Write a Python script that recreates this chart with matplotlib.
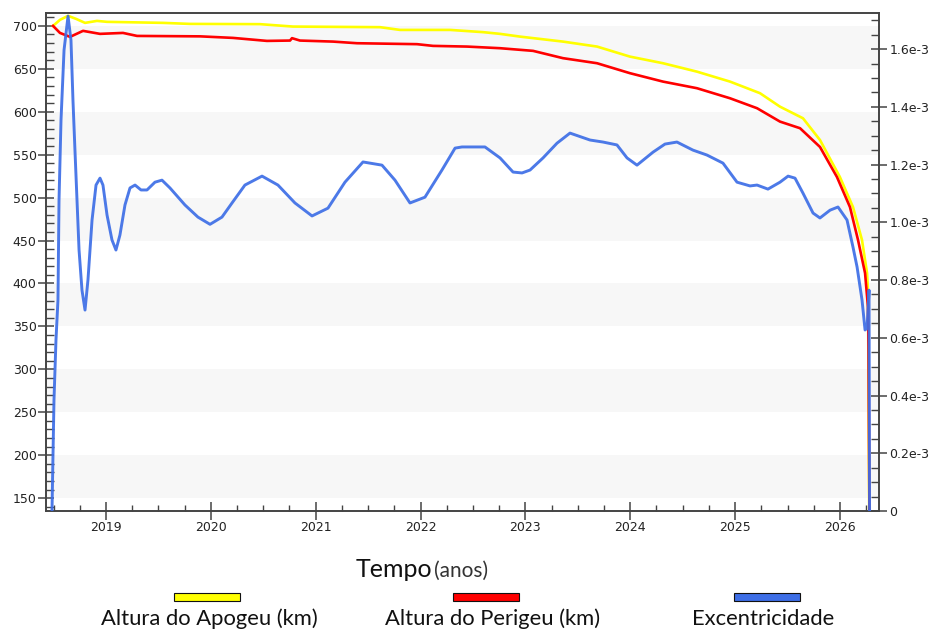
import matplotlib
matplotlib.use("Agg")
import matplotlib.pyplot as plt
from matplotlib.patches import Rectangle
from matplotlib.ticker import MultipleLocator, FuncFormatter

# ---- data ----
apo_t = [2018.495, 2018.561, 2018.638, 2018.714, 2018.800, 2018.914, 2019.010, 2019.544, 2019.801,
         2020.469, 2020.783, 2021.613, 2021.804, 2022.281, 2022.596, 2022.758, 2022.949, 2023.358,
         2023.683, 2023.997, 2024.312, 2024.636, 2024.951, 2025.237, 2025.428, 2025.647, 2025.809,
         2025.999, 2026.124, 2026.210, 2026.258, 2026.267, 2026.280]
apo_v = [700, 707, 711.7, 708.2, 703.5, 705.8, 704.7, 703.5, 702.3,
         702.0, 699.2, 698.5, 695.3, 695.3, 692.7, 690.7, 687.5, 681.7,
         675.9, 664.2, 656.5, 646.7, 635.1, 621.6, 605.9, 592.4, 567.1,
         524.0, 489.0, 450.5, 412.1, 392.3, 100]

peri_t = [2018.495, 2018.561, 2018.657, 2018.781, 2018.943, 2019.162, 2019.296, 2019.898, 2020.211,
          2020.535, 2020.755, 2020.774, 2020.850, 2021.165, 2021.394, 2021.966, 2022.119, 2022.443,
          2022.758, 2023.073, 2023.358, 2023.683, 2023.997, 2024.312, 2024.636, 2024.951, 2025.209,
          2025.428, 2025.619, 2025.809, 2025.971, 2026.095, 2026.172, 2026.239, 2026.267, 2026.272,
          2026.282]
peri_v = [700, 691.8, 687.2, 694.2, 690.7, 691.8, 688.3, 687.8, 686.0,
          682.5, 682.9, 685.7, 682.9, 681.7, 679.8, 678.7, 676.7, 675.9,
          674.0, 670.9, 662.4, 656.5, 644.9, 635.1, 627.4, 615.7, 604.1,
          588.5, 580.8, 559.0, 524.0, 489.0, 450.6, 412.1, 372.5, 325.9,
          100]

ecc_t = [2018.485, 2018.504, 2018.523, 2018.542, 2018.552, 2018.571, 2018.600, 2018.638, 2018.666,
         2018.685, 2018.704, 2018.743, 2018.771, 2018.800, 2018.828, 2018.867, 2018.905, 2018.943,
         2018.971, 2019.010, 2019.057, 2019.095, 2019.133, 2019.181, 2019.229, 2019.277, 2019.334,
         2019.391, 2019.467, 2019.534, 2019.610, 2019.753, 2019.877, 2019.992, 2020.106, 2020.202,
         2020.325, 2020.488, 2020.640, 2020.802, 2020.965, 2021.117, 2021.279, 2021.451, 2021.632,
         2021.756, 2021.899, 2022.042, 2022.204, 2022.329, 2022.395, 2022.614, 2022.758, 2022.882,
         2022.968, 2023.044, 2023.168, 2023.301, 2023.425, 2023.616, 2023.740, 2023.873, 2023.969,
         2024.064, 2024.217, 2024.331, 2024.445, 2024.598, 2024.731, 2024.884, 2025.018, 2025.142,
         2025.209, 2025.313, 2025.428, 2025.505, 2025.571, 2025.647, 2025.743, 2025.809, 2025.905,
         2025.981, 2026.067, 2026.124, 2026.163, 2026.210, 2026.239, 2026.258, 2026.277, 2026.282]
ecc_v = [0, 0.384, 0.592, 0.731, 1.077, 1.354, 1.597, 1.714, 1.631,
         1.423, 1.250, 0.904, 0.765, 0.696, 0.800, 1.008, 1.129, 1.153,
         1.129, 1.025, 0.939, 0.904, 0.956, 1.060, 1.119, 1.129, 1.112,
         1.112, 1.139, 1.146, 1.119, 1.060, 1.018, 0.993, 1.018, 1.067,
         1.129, 1.160, 1.129, 1.067, 1.022, 1.049, 1.139, 1.209, 1.198,
         1.146, 1.067, 1.087, 1.181, 1.257, 1.261, 1.261, 1.223, 1.174,
         1.171, 1.181, 1.223, 1.274, 1.309, 1.285, 1.278, 1.268, 1.223,
         1.198, 1.243, 1.271, 1.278, 1.250, 1.233, 1.205, 1.139, 1.126,
         1.129, 1.115, 1.139, 1.160, 1.153, 1.101, 1.032, 1.015, 1.042,
         1.053, 1.008, 0.914, 0.845, 0.731, 0.627, 0.634, 0.765, 0]  # in units of 1e-3

years = [2019, 2020, 2021, 2022, 2023, 2024, 2025, 2026]
left_ticks = [150, 200, 250, 300, 350, 400, 450, 500, 550, 600, 650, 700]
right_ticks = [0, 0.2, 0.4, 0.6, 0.8, 1.0, 1.2, 1.4, 1.6]
legend_labels = ["Altura do Apogeu (km)", "Altura do Perigeu (km)", "Excentricidade"]

C_APO = "#ffff00"
C_PERI = "#ff0000"
C_ECC = "#3d6ee6"
TXT = "#222222"
SPINE = "#444444"

W, H = 932, 630
fig = plt.figure(figsize=(W / 100, H / 100), dpi=100)
fig.patch.set_facecolor("white")

def fx(x):
    return x / W

def fy(y):
    return 1 - y / H

ax = fig.add_axes([fx(45.7), fy(511), fx(879) - fx(45.7), fy(13) - fy(511)])
ax.set_xlim(2018.425, 2026.372)
ax.set_ylim(135, 715)

# alternating bands
for lo in range(150, 700, 100):
    ax.axhspan(lo, lo + 50, facecolor="#f7f7f7", edgecolor="none", zorder=0)

ax.plot(apo_t, apo_v, color=C_APO, lw=1.9, zorder=3, solid_joinstyle="round")
ax.plot(peri_t, peri_v, color=C_PERI, lw=1.9, zorder=4, solid_joinstyle="round")

ax2 = ax.twinx()
ax2.set_ylim(0, 1.725)
ax2.plot(ecc_t, ecc_v, color=C_ECC, lw=2.1, alpha=0.92, zorder=5, solid_joinstyle="round")

for a in (ax, ax2):
    for s in a.spines.values():
        s.set_color(SPINE)
        s.set_linewidth(1.2)

ax.set_xticks(years)
ax.xaxis.set_minor_locator(MultipleLocator(0.25))
ax.set_yticks(left_ticks)
ax.yaxis.set_minor_locator(MultipleLocator(10))
ax.tick_params(axis="x", which="major", direction="inout", length=13, width=1.1,
               colors=SPINE, labelcolor=TXT, labelsize=9, pad=1)
ax.tick_params(axis="x", which="minor", direction="in", length=4, width=1.0, colors=SPINE)
ax.tick_params(axis="y", which="major", direction="inout", length=11, width=1.1,
               colors=SPINE, labelcolor=TXT, labelsize=9, pad=1)
ax.tick_params(axis="y", which="minor", direction="in", length=5.5, width=1.0, colors=SPINE)

ax2.set_yticks(right_ticks)
ax2.yaxis.set_minor_locator(MultipleLocator(0.05))
ax2.yaxis.set_major_formatter(FuncFormatter(lambda v, p: "0" if abs(v) < 1e-9 else f"{v:.1f}e-3"))
ax2.tick_params(axis="y", which="major", direction="inout", length=11, width=1.1,
                colors=SPINE, labelcolor=TXT, labelsize=9, pad=2)
ax2.tick_params(axis="y", which="minor", direction="in", length=5.5, width=1.0, colors=SPINE)

# x label
fig.text(fx(432), fy(577), "Tempo", ha="right", va="baseline", fontsize=18,
         family="Lato", color="#111111")
fig.text(fx(434), fy(577), "(anos)", ha="left", va="baseline", fontsize=15,
         family="Lato", color="#333333")

# legend
colors = [C_APO, C_PERI, C_ECC]
rect_x = [174, 453, 734]
text_x = [209, 493, 763]
for c, rx, tx, lab in zip(colors, rect_x, text_x, legend_labels):
    fig.add_artist(Rectangle((fx(rx), fy(601)), fx(66), 8 / H, transform=fig.transFigure,
                             facecolor=c, edgecolor="#111111", lw=0.8))
    fig.text(fx(tx), fy(619), lab, ha="center", va="center", fontsize=15.8,
             family="Lato", color="#111111")

fig.savefig("out.png", dpi=100)
